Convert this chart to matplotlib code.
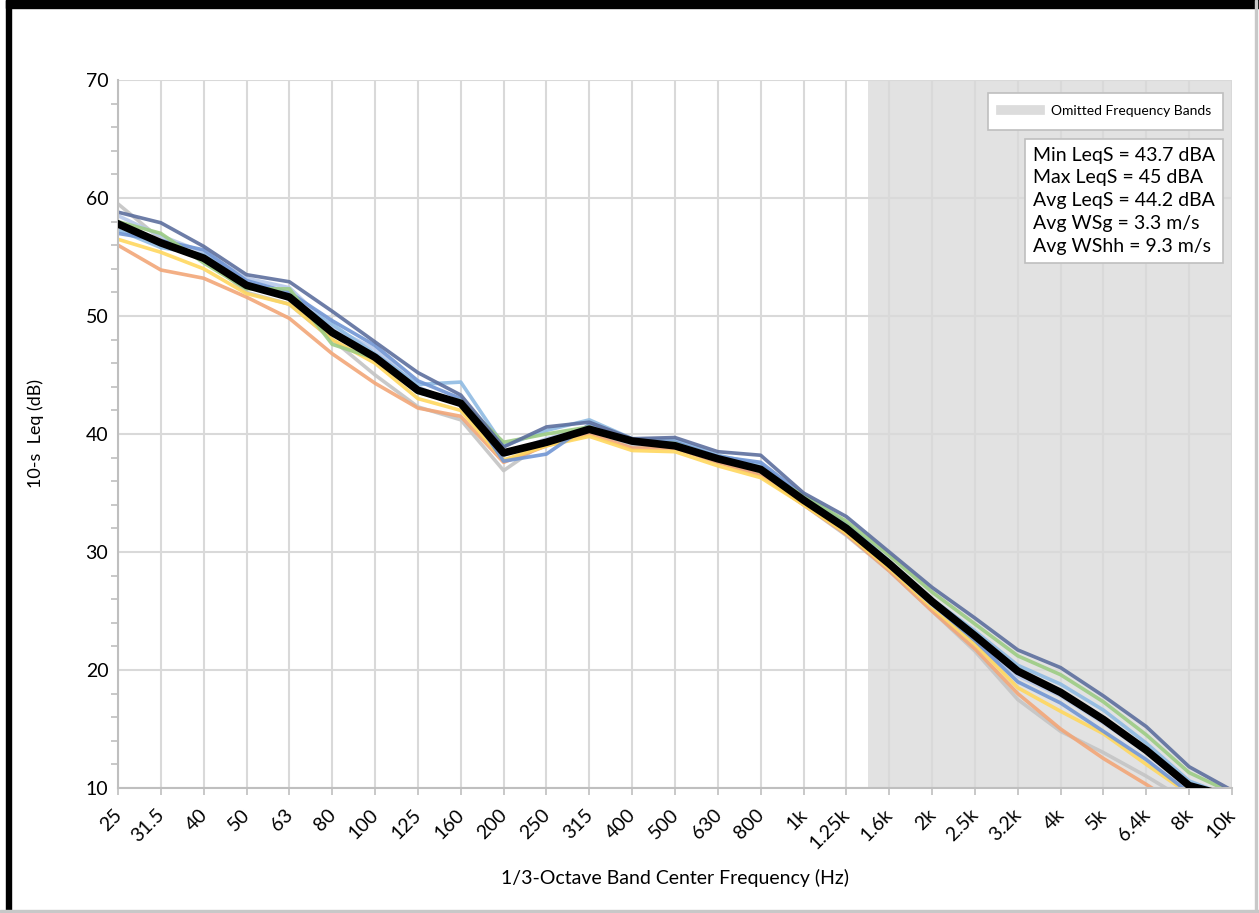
import matplotlib.pyplot as plt
import numpy as np
from matplotlib.lines import Line2D
from matplotlib.patches import Rectangle
from matplotlib.transforms import ScaledTranslation

plt.rcParams['font.family'] = ['Lato', 'DejaVu Sans']

# 1/3-octave band centres
bands = ["25", "31.5", "40", "50", "63", "80", "100", "125", "160", "200",
         "250", "315", "400", "500", "630", "800", "1k", "1.25k", "1.6k",
         "2k", "2.5k", "3.2k", "4k", "5k", "6.4k", "8k", "10k"]

# individual 10-s Leq spectra (dB)
leq_slate = [58.8, 57.9, 55.9, 53.5, 52.9, 50.4, 47.8, 45.2, 43.3, 38.9, 40.6, 41.0, 39.6, 39.7,
             38.5, 38.2, 35.0, 33.0, 30.0, 27.0, 24.4, 21.7, 20.2, 17.8, 15.2, 11.8, 9.8]
leq_orange = [56.0, 53.9, 53.2, 51.6, 49.8, 46.8, 44.3, 42.2, 41.5, 37.6, 39.0, 40.0, 38.8, 38.8,
              37.6, 36.5, 34.0, 31.5, 28.4, 25.0, 21.8, 18.0, 15.0, 12.5, 10.3, 8.0, 6.5]
leq_gray = [59.5, 56.5, 55.0, 52.0, 51.0, 48.0, 45.0, 42.3, 41.2, 36.9, 39.4, 40.4, 39.0, 38.9,
            37.6, 36.6, 34.0, 31.4, 28.4, 25.0, 21.6, 17.5, 14.8, 13.0, 11.0, 8.8, 7.0]
leq_yellow = [56.5, 55.4, 54.0, 51.9, 51.0, 48.0, 46.0, 43.0, 42.0, 37.8, 39.0, 39.8, 38.6, 38.5,
              37.3, 36.3, 34.0, 31.6, 28.6, 25.3, 22.2, 18.5, 16.5, 14.6, 12.0, 9.5, 8.0]
leq_green = [58.0, 57.0, 54.5, 52.3, 52.3, 47.6, 46.4, 43.5, 42.8, 39.3, 40.0, 40.6, 39.3, 39.2,
             38.0, 36.8, 34.8, 32.6, 29.7, 26.6, 23.9, 21.2, 19.6, 17.3, 14.5, 11.3, 9.6]
leq_ltblue = [57.3, 55.8, 55.2, 52.8, 51.4, 49.3, 46.8, 44.2, 44.4, 39.0, 40.3, 41.2, 39.6, 39.5,
              38.2, 37.4, 34.6, 32.2, 29.2, 26.0, 23.3, 20.4, 18.8, 16.6, 13.8, 10.6, 9.2]
leq_blue = [57.0, 56.4, 55.6, 53.0, 52.0, 49.6, 47.5, 44.5, 43.0, 37.7, 38.3, 40.8, 39.4, 39.3,
            38.1, 37.6, 34.8, 32.4, 29.2, 25.6, 22.5, 19.0, 17.2, 14.8, 12.4, 9.6, 8.3]
leq_lavender = [58.5, 56.8, 55.4, 53.2, 52.4, 49.0, 47.2, 44.0, 42.4, 38.2, 39.6, 40.5, 39.5, 39.1,
                38.0, 37.2, 34.3, 31.9, 28.8, 25.5, 22.7, 19.5, 17.8, 15.5, 13.0, 10.0, 8.8]

# average spectrum
leq_avg = [57.8, 56.2, 54.9, 52.6, 51.6, 48.6, 46.5, 43.7, 42.6, 38.4, 39.3, 40.4, 39.4, 39.0,
           37.9, 37.0, 34.4, 32.0, 29.0, 25.8, 22.9, 19.9, 18.1, 15.8, 13.2, 10.2, 9.2]

series = [(leq_gray, "#c4c4c4"), (leq_orange, "#f2a678"), (leq_yellow, "#ffd75e"),
          (leq_lavender, "#b7c9ea"), (leq_ltblue, "#8fbbe3"), (leq_blue, "#7196d4"),
          (leq_green, "#9ccc84"), (leq_slate, "#5d6f9e")]

stats_text = ["Min LeqS = 43.7 dBA", "Max LeqS = 45 dBA", "Avg LeqS = 44.2 dBA",
              "Avg WSg = 3.3 m/s", "Avg WShh = 9.3 m/s"]

fig = plt.figure(figsize=(12.59, 9.13), dpi=100)
ax = fig.add_axes([118 / 1259, 1 - 788 / 913, (1232 - 118) / 1259, (788 - 80) / 913])

x = np.arange(len(bands))

ax.axvspan(17.5, len(bands) - 1, color="#e2e2e2", zorder=0.5, lw=0)

for vals, col in series:
    ax.plot(x, vals, color=col, lw=2.6, alpha=0.9, zorder=2, solid_joinstyle="round")
ax.plot(x, leq_avg, color="black", lw=5.5, zorder=3, solid_joinstyle="round")

ax.set_xlim(0, len(bands) - 1)
ax.set_ylim(10, 70)
ax.set_xticks(x)
ax.set_xticklabels(bands, rotation=45, ha="right", fontsize=14)
ax.set_yticks(np.arange(10, 71, 10))
ax.set_yticks(np.arange(10, 71, 2), minor=True)
ax.tick_params(axis="y", labelsize=14, colors="#bfbfbf", labelcolor="black", length=0, pad=7)
ax.tick_params(axis="y", which="minor", length=5, width=1.2, colors="#bfbfbf")
ax.tick_params(axis="x", colors="#bfbfbf", labelcolor="black", length=5, width=1.2, pad=3)
# nudge the slanted labels so their ends sit just right of each tick
shift = ScaledTranslation(5 / 72, -5 / 72, fig.dpi_scale_trans)
for tick in ax.xaxis.get_major_ticks():
    tick.label1.set_transform(tick.label1.get_transform() + shift)
ax.grid(True, which="major", color="#d9d9d9", lw=1.5, zorder=0)
ax.set_axisbelow(True)
for side in ("top", "right"):
    ax.spines[side].set_visible(False)
for side in ("left", "bottom"):
    ax.spines[side].set_color("#bfbfbf")
    ax.spines[side].set_linewidth(1.5)

ax.set_xlabel("1/3-Octave Band Center Frequency (Hz)", fontsize=14, labelpad=12)
ax.set_ylabel("10-s  Leq (dB)", fontsize=13, labelpad=30)

omit = Line2D([], [], color="#dcdcdc", lw=7)
leg = ax.legend([omit], ["Omitted Frequency Bands"], loc="upper right",
                bbox_to_anchor=(0.9985, 0.992), fontsize=10, handlelength=2.8,
                fancybox=False, framealpha=1, borderpad=0.9)
leg.get_frame().set_edgecolor("#bfbfbf")
leg.get_frame().set_linewidth(1.2)

ax.text(0.8215, 0.906, "\n".join(stats_text), transform=ax.transAxes, fontsize=14,
        va="top", ha="left", linespacing=1.42, zorder=5,
        bbox=dict(boxstyle="square,pad=0.4", fc="white", ec="#bfbfbf", lw=1.2))

# outer frame: heavy on top/left, light on right/bottom
fig.patches.append(Rectangle((6 / 1259, 0), 5 / 1259, 1, transform=fig.transFigure, color="black"))
fig.patches.append(Rectangle((6 / 1259, 1 - 8 / 913), 1, 8 / 913, transform=fig.transFigure, color="black"))
fig.patches.append(Rectangle((1 - 4 / 1259, 0), 2 / 1259, 1, transform=fig.transFigure, color="#c8c8c8"))
fig.patches.append(Rectangle((0, 1 / 913), 1, 2 / 913, transform=fig.transFigure, color="#c8c8c8"))

fig.savefig("out.png", dpi=100)
